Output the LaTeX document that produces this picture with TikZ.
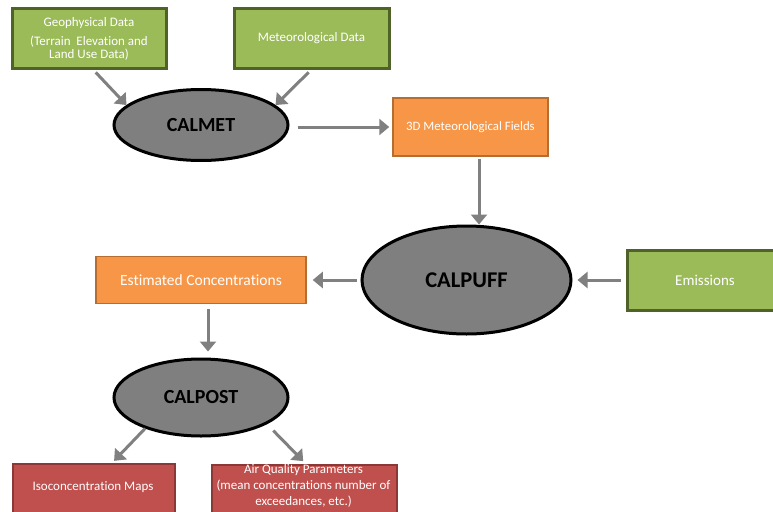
\documentclass[tikz,border=0pt]{standalone}
\usepackage{fontspec}
\setmainfont[Ligatures={NoCommon}]{Carlito}
\usetikzlibrary{arrows.meta,shapes.geometric}
\definecolor{gfill}{HTML}{9BBB59}
\definecolor{gline}{HTML}{4F6228}
\definecolor{ofill}{HTML}{F79646}
\definecolor{oline}{HTML}{B66D31}
\definecolor{rfill}{HTML}{C0504D}
\definecolor{rline}{HTML}{8C3836}
\definecolor{efill}{HTML}{7F7F7F}
\definecolor{acol}{HTML}{808080}
\tikzset{
  gbox/.style={draw=gline, fill=gfill, line width=3pt, text=white, font=\fontsize{13}{13}\selectfont, align=center, inner sep=0pt},
  obox/.style={draw=oline, fill=ofill, line width=1.5pt, text=white, align=center, inner sep=0pt},
  rbox/.style={draw=rline, fill=rfill, line width=2pt, inner sep=0pt},
  wtext/.style={text=white, align=center, inner sep=0pt, font=\fontsize{13}{16}\selectfont},
  prog/.style={ellipse, draw=black, fill=efill, line width=3pt, inner sep=0pt},
  arr/.style={draw=acol, line width=3pt, -{Triangle[width=16pt,length=10pt]}},
}
\begin{document}
\begin{tikzpicture}[x=1pt,y=-1pt]
\clip (0,0) rectangle (773,511);
\fill[white] (0,0) rectangle (773,511);
% green input boxes
\node[gbox, minimum width=154, minimum height=59] (geo) at (89,38.5)
  {Geophysical Data\\[6pt](Terrain\ \ Elevation and\\Land Use Data)};
\node[gbox, minimum width=155, minimum height=59] (met) at (311.5,38.5) {Meteorological Data};
% CALMET
\node[prog, minimum width=174, minimum height=71, font=\fontsize{20}{22}\selectfont\bfseries] (calmet) at (201,125) {CALMET};
% 3D fields
\node[obox, minimum width=155, minimum height=58, font=\fontsize{12.8}{14}\selectfont] (f3d) at (470.5,127) {3D Meteorological Fields};
% CALPUFF
\node[prog, minimum width=209, minimum height=108, font=\fontsize{22.5}{25}\selectfont\bfseries] (calpuff) at (466.5,280) {CALPUFF};
% Emissions
\node[gbox, minimum width=156, minimum height=60, font=\fontsize{15}{17}\selectfont] (emis) at (705,280) {Emissions};
% Estimated Concentrations
\node[obox, minimum width=210, minimum height=47, font=\fontsize{15.5}{17}\selectfont] (est) at (201,280) {Estimated Concentrations};
% CALPOST
\node[prog, minimum width=174, minimum height=77, font=\fontsize{20}{22}\selectfont\bfseries] (calpost) at (201,397.5) {CALPOST};
% outputs
\node[rbox, minimum width=162, minimum height=60, anchor=north west] (iso) at (12,463) {};
\node[wtext] (isot) at (93,487) {Isoconcentration Maps};
\node[rbox, minimum width=185, minimum height=60, anchor=north west] (aq) at (211,464) {};
\node[wtext, anchor=north] (aqt) at (303.5,464.5)
  {Air Quality Parameters\\(mean concentrations number of\\exceedances, etc.)};
% connectors
\draw[arr, shorten <=4pt] (geo.south -| 93,0) -- (calmet.165);
\draw[arr, shorten <=4pt] (met.south) -- (calmet.15);
\draw[arr, shorten <=8pt, shorten >=3pt] (calmet.east |- f3d.west) -- (f3d.west);
\draw[arr, shorten <=2pt] (f3d.south -| 479,0) -- (calpuff.north -| 479,0);
\draw[arr, shorten <=5pt, shorten >=5pt] (emis.west) -- (calpuff.east);
\draw[arr, shorten <=4pt, shorten >=6pt] (calpuff.west) -- (est.east);
\draw[arr, shorten <=5pt, shorten >=6pt] (est.south -| 208,0) -- (calpost.north -| 208,0);
\draw[arr, shorten >=3pt] (calpost.209) -- (iso.north -| 112,0);
\draw[arr, shorten <=9pt, shorten >=4pt] (calpost.338) -- (aq.north -| 306,0);
\end{tikzpicture}
\end{document}
